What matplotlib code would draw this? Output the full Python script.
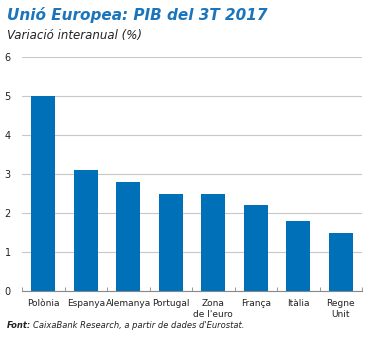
import matplotlib.pyplot as plt
import numpy as np

# Data
countries = ['Polònia', 'Espanya', 'Alemanya', 'Portugal', 'Zona\nde l\'euro',
             'França', 'Itàlia', 'Regne\nUnit']
gdp_growth = [5.0, 3.1, 2.8, 2.5, 2.5, 2.2, 1.8, 1.5]
y_ticks = [0, 1, 2, 3, 4, 5, 6]

bar_color = '#0070b8'
title_color = '#1a75bc'

fig = plt.figure(figsize=(3.76, 3.38), dpi=100)
ax = fig.add_axes([22 / 376, 1 - 291 / 338, 340 / 376, 234 / 338])

x = np.arange(len(countries))
ax.bar(x, gdp_growth, width=0.56, color=bar_color, zorder=3)

ax.set_xlim(-0.5, len(countries) - 0.5)
ax.set_ylim(0, 6)
ax.set_yticks(y_ticks)
ax.yaxis.grid(True, color='#c8c8c8', linewidth=0.8, zorder=0)
ax.tick_params(axis='y', length=0, labelsize=7, colors='#222222', pad=8)

ax.set_xticks(x)
ax.set_xticklabels(countries, fontsize=6.5, color='#222222', linespacing=1.3)
ax.tick_params(axis='x', length=0, pad=6)
# small ticks between categories
ax.set_xticks(np.arange(-0.5, len(countries) + 0.5, 1), minor=True)
ax.tick_params(axis='x', which='minor', length=3, color='#888888', direction='in')

for s in ['top', 'right', 'left']:
    ax.spines[s].set_visible(False)
ax.spines['bottom'].set_color('#888888')
ax.spines['bottom'].set_linewidth(0.8)

fig.text(0.018, 1 - 15 / 338, 'Unió Europea: PIB del 3T 2017', fontsize=11,
         fontweight='bold', fontstyle='italic', color=title_color, va='center')
fig.text(0.018, 1 - 35 / 338, 'Variació interanual (%)', fontsize=8.5,
         fontstyle='italic', color='#222222', va='center')

# source line: bold label followed by italic text
src = fig.text(0.018, 1 - 325 / 338, 'Font:', fontsize=6, fontweight='bold',
               fontstyle='italic', color='#222222', va='center')
fig.canvas.draw()
bb = src.get_window_extent()
x1 = bb.x1 / fig.bbox.width + 0.005
fig.text(x1, 1 - 325 / 338, 'CaixaBank Research, a partir de dades d\'Eurostat.',
         fontsize=6, fontstyle='italic', color='#222222', va='center')

fig.savefig('out.png', dpi=100)
